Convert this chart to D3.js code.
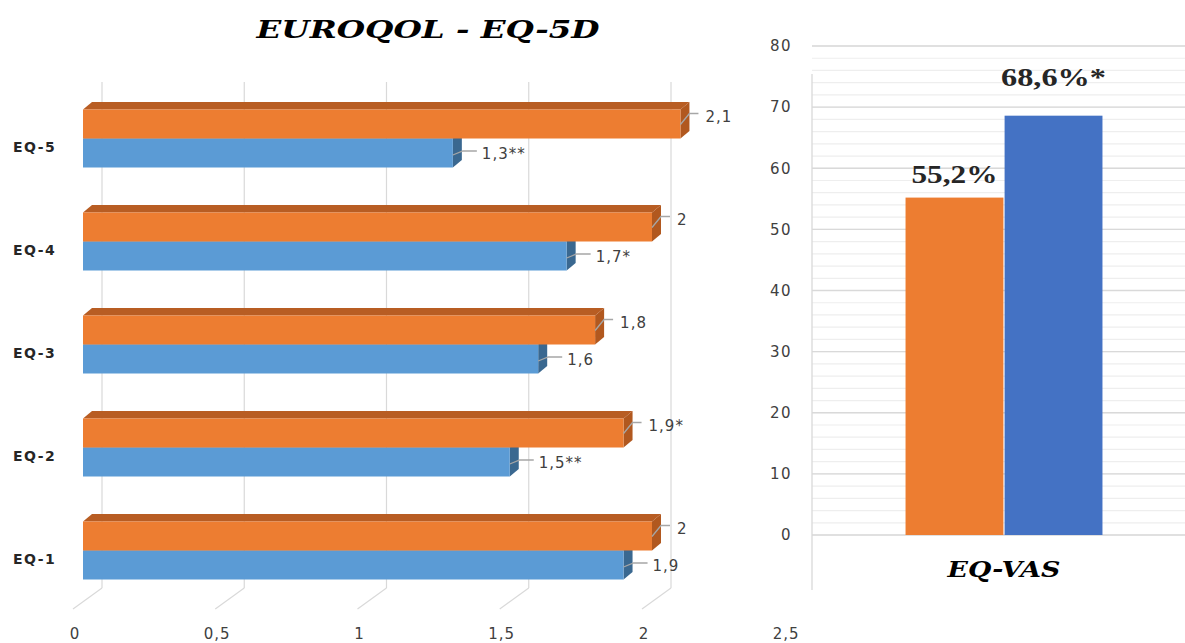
<!DOCTYPE html>
<html>
<head>
<meta charset="utf-8">
<script src="https://cdn.jsdelivr.net/npm/d3@7"></script>
<style>
  html, body { margin: 0; padding: 0; background: #ffffff; }
  svg { display: block; }
</style>
</head>
<body>
<script>
// ---------- DATA ----------
const categories = ["EQ-5", "EQ-4", "EQ-3", "EQ-2", "EQ-1"];
const preValues = [2.1, 2, 1.8, 1.9, 2];          // orange series
const postValues = [1.3, 1.7, 1.6, 1.5, 1.9];     // blue series
const preLabels = ["2,1", "2", "1,8", "1,9*", "2"];
const postLabels = ["1,3**", "1,7*", "1,6", "1,5**", "1,9"];
const xTicks = [0, 0.5, 1, 1.5, 2, 2.5];
const xTickLabels = ["0", "0,5", "1", "1,5", "2", "2,5"];

const vasCategories = ["EQ-VAS"];
const vasSeries = ["pre", "post"];
const vasValues = [55.2, 68.6];
const vasLabels = ["55,2%", "68,6%*"];
const yTicks = [0, 10, 20, 30, 40, 50, 60, 70, 80];
const yMinorTicks = d3.range(0, 81, 2);

const leftTitle = "EUROQOL - EQ-5D";

// ---------- SETUP ----------
const W = 1185, Hh = 643;
const svg = d3.select("body").append("svg").attr("width", W).attr("height", Hh);
svg.append("rect").attr("width", W).attr("height", Hh).attr("fill", "#ffffff");

const grid = "#d9d9d9";
const textCol = "#404040";

// ---------- LEFT: 3D horizontal bars ----------
const x = d3.scaleLinear().domain([0, 2.5]).range([83, 83 + 2.5 * 284.5]);
const y = d3.scalePoint().domain(categories).range([138.5, 550.5]);
const BH = 29, DX = 9, DY = 7.5;
const WALL = 19, FLOOR_Y0 = 588, FLOOR_Y1 = 609;

const gl = svg.append("g");
xTicks.slice(0, 5).forEach(v => {
  gl.append("line").attr("x1", x(v) + WALL).attr("x2", x(v) + WALL)
    .attr("y1", 82).attr("y2", FLOOR_Y0).attr("stroke", grid).attr("stroke-width", 1.2);
  gl.append("line").attr("x1", x(v) + WALL).attr("x2", x(v) - 10)
    .attr("y1", FLOOR_Y0).attr("y2", FLOOR_Y1).attr("stroke", grid).attr("stroke-width", 1.2);
});

svg.append("g").selectAll("text").data(xTicks).join("text")
  .attr("x", d => x(d) - 8).attr("y", 634).attr("dy", "0.35em")
  .attr("text-anchor", "middle")
  .attr("font-family", "DejaVu Sans").attr("font-size", 15).attr("letter-spacing", 1)
  .attr("fill", textCol)
  .text((d, i) => xTickLabels[i]);

svg.append("g").selectAll("text").data(categories).join("text")
  .attr("x", 13).attr("y", d => y(d) + 9).attr("dy", "0.35em")
  .attr("font-family", "DejaVu Sans").attr("font-weight", "bold")
  .attr("font-size", 14).attr("letter-spacing", 1.5)
  .attr("fill", "#262626")
  .text(d => d);

function drawSeries(values, isTop, cols) {
  const g = svg.append("g");
  values.forEach((v, i) => {
    const c = categories[i];
    const x0 = x(0), x1 = x(v);
    const top = isTop ? y(c) - BH : y(c);
    const bot = top + BH;
    g.append("path")
      .attr("d", `M${x0},${top} L${x0 + DX},${top - DY} L${x1 + DX},${top - DY} L${x1},${top} Z`)
      .attr("fill", cols.cap);
    g.append("path")
      .attr("d", `M${x1},${top} L${x1 + DX},${top - DY} L${x1 + DX},${bot - DY} L${x1},${bot} Z`)
      .attr("fill", cols.side);
    g.append("rect").attr("x", x0).attr("y", top).attr("width", x1 - x0).attr("height", BH)
      .attr("fill", cols.front);
  });
}
drawSeries(postValues, false, { front: "#5B9BD5", cap: "#41719C", side: "#3A6890" });
drawSeries(preValues, true, { front: "#ED7D31", cap: "#B85D23", side: "#B1581F" });

// value labels with leader lines
const lab = svg.append("g");
preValues.forEach((v, i) => {
  const top = y(categories[i]) - BH;
  const xe = x(v);
  lab.append("polyline")
    .attr("points", `${xe},${top + 15} ${xe + 9},${top + 4} ${xe + 18},${top + 4}`)
    .attr("fill", "none").attr("stroke", "#a6a6a6").attr("stroke-width", 1.3);
  lab.append("text").attr("x", xe + 25).attr("y", top + 7).attr("dy", "0.35em")
    .attr("font-family", "DejaVu Sans").attr("font-size", 15).attr("letter-spacing", 1)
    .attr("fill", textCol).text(preLabels[i]);
});
postValues.forEach((v, i) => {
  const mid = y(categories[i]) + BH / 2;
  const xe = x(v);
  lab.append("polyline")
    .attr("points", `${xe},${mid + 2} ${xe + 10},${mid - 2} ${xe + 24},${mid - 2}`)
    .attr("fill", "none").attr("stroke", "#a6a6a6").attr("stroke-width", 1.3);
  lab.append("text").attr("x", xe + 29).attr("y", mid + 1).attr("dy", "0.35em")
    .attr("font-family", "DejaVu Sans").attr("font-size", 15).attr("letter-spacing", 1)
    .attr("fill", textCol).text(postLabels[i]);
});

svg.append("text").attr("x", 428).attr("y", 38)
  .attr("text-anchor", "middle")
  .attr("font-family", "DejaVu Serif").attr("font-style", "italic").attr("font-weight", "bold")
  .attr("font-size", 25).attr("fill", "#000")
  .attr("textLength", 343).attr("lengthAdjust", "spacingAndGlyphs")
  .text(leftTitle);

// ---------- RIGHT: EQ-VAS ----------
const yv = d3.scaleLinear().domain([0, 80]).range([535, 46]);
const rg = svg.append("g");
yMinorTicks.forEach(t => {
  rg.append("line").attr("x1", 812).attr("x2", W).attr("y1", yv(t)).attr("y2", yv(t))
    .attr("stroke", "#eeeeee").attr("stroke-width", 1.2);
});
yTicks.forEach(t => {
  rg.append("line").attr("x1", 812).attr("x2", W).attr("y1", yv(t)).attr("y2", yv(t))
    .attr("stroke", grid).attr("stroke-width", 1.3);
});
rg.append("line").attr("x1", 812).attr("x2", 812).attr("y1", 74).attr("y2", 590)
  .attr("stroke", grid).attr("stroke-width", 1.3);

svg.append("g").selectAll("text").data(yTicks).join("text")
  .attr("x", 792).attr("y", d => yv(d)).attr("dy", "0.35em")
  .attr("text-anchor", "end")
  .attr("font-family", "DejaVu Sans").attr("font-size", 15).attr("letter-spacing", 1.5)
  .attr("fill", textCol).text(d => d);

const xv0 = d3.scaleBand().domain(vasCategories).range([812, 1196]).paddingInner(0).paddingOuter(0.475);
const xv1 = d3.scaleBand().domain(vasSeries).range([0, xv0.bandwidth()]).paddingInner(0.012);
const vasColors = ["#ED7D31", "#4472C4"];
const labelLift = [15, 30];
const labelWidth = [86, 105];

svg.append("g").selectAll("rect").data(vasValues).join("rect")
  .attr("x", (d, i) => xv0("EQ-VAS") + xv1(vasSeries[i]))
  .attr("y", d => yv(d))
  .attr("width", xv1.bandwidth())
  .attr("height", d => yv(0) - yv(d))
  .attr("fill", (d, i) => vasColors[i]);

svg.append("g").selectAll("text").data(vasValues).join("text")
  .attr("x", (d, i) => xv0("EQ-VAS") + xv1(vasSeries[i]) + xv1.bandwidth() / 2)
  .attr("y", (d, i) => yv(d) - labelLift[i])
  .attr("text-anchor", "middle")
  .attr("font-family", "Liberation Serif").attr("font-weight", "bold").attr("font-size", 25)
  .attr("textLength", (d, i) => labelWidth[i]).attr("lengthAdjust", "spacingAndGlyphs")
  .attr("fill", "#262626")
  .text((d, i) => vasLabels[i]);

svg.append("text")
  .attr("x", xv0("EQ-VAS") + xv0.bandwidth() / 2).attr("y", 577)
  .attr("text-anchor", "middle")
  .attr("font-family", "DejaVu Serif").attr("font-style", "italic").attr("font-weight", "bold")
  .attr("font-size", 23).attr("fill", "#000")
  .attr("textLength", 113).attr("lengthAdjust", "spacingAndGlyphs")
  .text(vasCategories[0]);
</script>
</body>
</html>
